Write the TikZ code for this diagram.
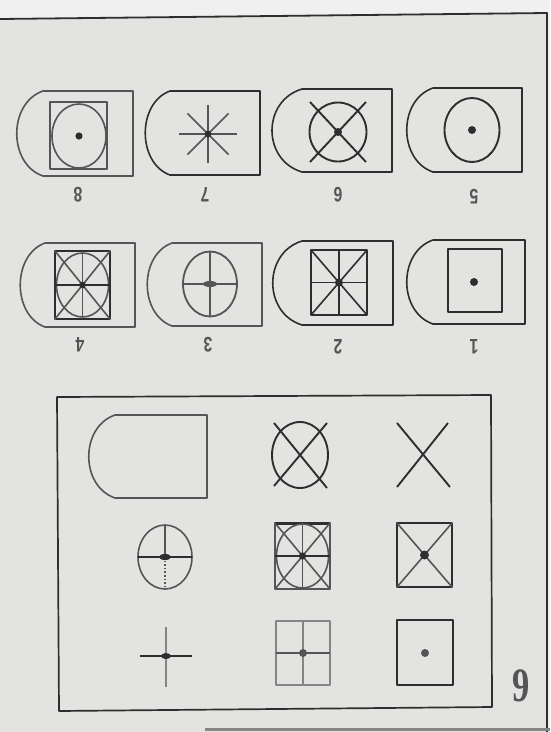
\documentclass[tikz,border=0pt]{standalone}
\usepackage{tikz}
\usepackage{fontspec}
\setmainfont{Liberation Serif}
\newfontfamily\digitfont{Liberation Sans}
\definecolor{ink}{HTML}{2E2E2E}
\definecolor{midink}{HTML}{555555}
\definecolor{paleink}{HTML}{858585}
\definecolor{paper}{HTML}{E3E3E1}
\definecolor{margin}{HTML}{F0F0F0}
\begin{document}
\begin{tikzpicture}[x=1pt, y=-1pt, line width=1.6pt, line join=round,
  digit/.style={font=\digitfont\fontsize{21}{21}\selectfont\bfseries, text=midink, inner sep=0pt, rotate=180, xscale=0.75}]
  \useasboundingbox (0,0) rectangle (550,732);
  \fill[margin] (0,0) rectangle (550,732);
  \fill[paper] (0,19) -- (547,13) -- (547,732) -- (0,732) -- cycle;
  \draw[ink, line width=1.8pt] (0,19) -- (547,13) -- (547,732);
  \draw[paleink, line width=3pt] (205,729) -- (550,729);
  % upper row
  \draw[midink] (43,91) -- (133,91) -- (133,176) -- (43,176) .. controls (8,164) and (8,103) .. cycle;
  \draw[midink, line width=1.8pt] (50,102) rectangle (107,169);
  \draw[midink] (79,136) ellipse [x radius=27, y radius=32];
  \fill[ink] (79,136) circle (3.6);
  \draw[ink] (170,91) -- (260,91) -- (260,175) -- (170,175) .. controls (137,163) and (137,103) .. cycle;
  \foreach \a in {0,45,...,315} \draw[midink] (208,134) -- ++(\a:29);
  \fill[ink] (208,134) circle (3.4);
  \draw[ink] (302,89) -- (392,89) -- (392,172) -- (302,172) .. controls (262,160) and (262,101) .. cycle;
  \draw[ink, line width=1.9pt] (338,132) ellipse [x radius=28.5, y radius=29.5];
  \draw[ink, line width=1.9pt] (310,102) -- (366,162);
  \draw[ink, line width=1.9pt] (366,102) -- (310,162);
  \fill[ink] (338,132) circle (4);
  \draw[ink] (433,88) -- (522,88) -- (522,172) -- (433,172) .. controls (398,160) and (398,100) .. cycle;
  \draw[ink, line width=1.9pt] (472,130) ellipse [x radius=27.5, y radius=32];
  \fill[ink] (472,130) circle (4);
  \node[digit] (n8) at (78,195) {8};
  \node[digit] (n7) at (205,195) {7};
  \node[digit] (n6) at (338,195) {6};
  \node[digit] (n5) at (474,197) {5};
  % lower row
  \draw[midink] (45,243) -- (135,243) -- (135,327) -- (45,327) .. controls (12,315) and (12,255) .. cycle;
  \draw[ink, line width=2.8pt] (55,251) rectangle (110,319);
  \draw[midink] (82.5,285) ellipse [x radius=26, y radius=32];
  \draw[midink] (55,251) -- (110,319) (110,251) -- (55,319);
  \draw[ink, line width=2pt] (55,285) -- (110,285);
  \draw[midink] (82.5,251) -- (82.5,319);
  \fill[ink] (82.5,285) circle (3.4);
  \draw[midink] (172,243) -- (262,243) -- (262,326) -- (172,326) .. controls (139,314) and (139,255) .. cycle;
  \draw[midink, line width=1.8pt] (210,284) ellipse [x radius=27, y radius=32.5];
  \draw[midink, line width=2pt] (183,284) -- (237,284);
  \draw[midink] (210,252) -- (210,317);
  \fill[midink] (210,284) ellipse [x radius=7, y radius=3];
  \draw[ink] (302,241) -- (393,241) -- (393,325) -- (302,325) .. controls (263,313) and (263,253) .. cycle;
  \draw[ink, line width=2pt] (311,250) rectangle (367,315);
  \draw[ink] (339,250) -- (339,315) (311,282.5) -- (367,282.5);
  \draw[ink] (311,250) -- (367,315) (367,250) -- (311,315);
  \fill[ink] (339,282.5) circle (4);
  \draw[ink] (433,240) -- (525,240) -- (525,324) -- (433,324) .. controls (398,312) and (398,252) .. cycle;
  \draw[ink, line width=2pt] (448,249) rectangle (502,312);
  \fill[ink] (474,282) circle (4);
  \node[digit] (n4) at (80,345) {4};
  \node[digit] (n3) at (208,345) {3};
  \node[digit] (n2) at (338,347) {2};
  \node[digit] (n1) at (474,347) {1};
  % framed set
  \draw[ink, line width=1.7pt] (57,397) -- (491,395) -- (492,707) -- (59,711) -- cycle;
  \draw[midink] (115,415) -- (207,415) -- (207,498) -- (115,498) .. controls (80,486) and (80,427) .. cycle;
  \draw[ink, line width=1.9pt] (300,455) ellipse [x radius=28, y radius=33];
  \draw[ink, line width=1.9pt] (274,423) -- (327,488) (327,423) -- (274,486);
  \draw[ink, line width=1.9pt] (397,423) -- (450,487) (448,423) -- (397,487);
  \draw[midink] (165,557) ellipse [x radius=27, y radius=32];
  \draw[ink, line width=1.8pt] (138,557) -- (192,557);
  \draw[midink] (165,525) -- (165,557);
  \draw[midink, dotted] (165,557) -- (165,589);
  \fill[ink] (165,557) ellipse [x radius=6, y radius=3];
  \draw[midink, line width=2.2pt] (275,523) rectangle (330,589);
  \draw[ink, line width=3pt] (275,523) -- (330,523);
  \draw[midink] (302.5,556) ellipse [x radius=26, y radius=32];
  \draw[midink] (275,523) -- (330,589) (330,523) -- (275,589);
  \draw[midink] (302.5,523) -- (302.5,589);
  \draw[ink, line width=2pt] (275,556) -- (330,556);
  \fill[ink] (302.5,556) circle (3.6);
  \draw[ink, line width=2.2pt] (397,523) rectangle (452,587);
  \draw[midink] (397,523) -- (452,587) (452,523) -- (397,587);
  \fill[ink] (424.5,555) circle (4.5);
  \draw[paleink, line width=1.8pt] (166,627) -- (166,687);
  \draw[ink] (140,656) -- (192,656);
  \fill[ink] (166,656) ellipse [x radius=5, y radius=3];
  \draw[paleink, line width=2pt] (276,621) rectangle (330,685);
  \draw[paleink] (303,621) -- (303,685);
  \draw[midink] (276,653) -- (330,653);
  \fill[midink] (303,653) circle (4);
  \draw[ink, line width=1.8pt] (397,620) rectangle (453,685);
  \fill[midink] (425,653) circle (4);
  \node[font=\fontsize{48}{48}\selectfont\bfseries, text=midink, xscale=0.72, inner sep=0pt] (fig) at (521,686) {9};
\end{tikzpicture}
\end{document}
